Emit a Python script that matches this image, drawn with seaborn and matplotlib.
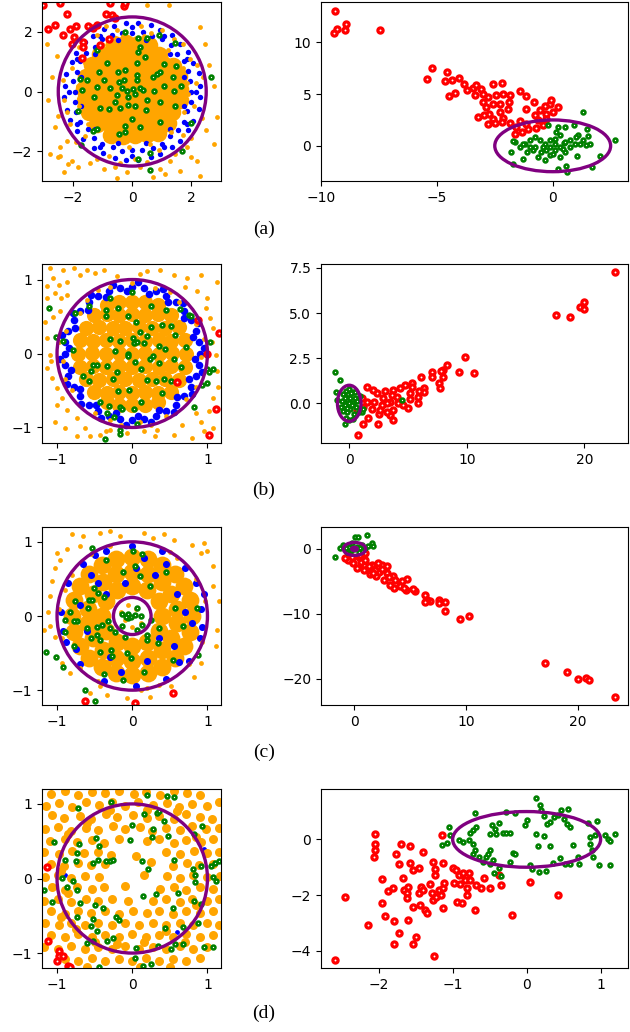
import numpy as np
import matplotlib
matplotlib.use("Agg")
import matplotlib.pyplot as plt
from matplotlib.patches import Circle
import seaborn as sns

# ---------------- row (a) ----------------
A_CORE = [(-0.6,1.6),(-0.22,1.63),(0.2,1.58),(0.58,1.55),
    (-1.1,1.25),(-0.72,1.28),(-0.3,1.24),(0.12,1.27),(0.5,1.23),(0.9,1.22),
    (-1.36,0.9),(-0.95,0.93),(-0.55,0.88),(-0.15,0.9),(0.27,0.92),(0.65,0.88),(1.05,0.91),(1.38,0.85),
    (-1.56,0.5),(-1.15,0.53),(-0.75,0.49),(-0.35,0.52),(0.05,0.48),(0.45,0.52),(0.86,0.5),(1.25,0.47),(1.58,0.52),
    (-1.62,0.1),(-1.2,0.12),(-0.8,0.08),(-0.4,0.11),(0.0,0.1),(0.41,0.12),(0.8,0.08),(1.2,0.11),(1.62,0.1),
    (-1.58,-0.3),(-1.16,-0.28),(-0.75,-0.32),(-0.35,-0.3),(0.05,-0.28),(0.45,-0.31),(0.85,-0.3),(1.25,-0.32),(1.6,-0.28),
    (-1.45,-0.7),(-1.05,-0.72),(-0.65,-0.68),(-0.25,-0.7),(0.15,-0.72),(0.55,-0.69),(0.95,-0.7),(1.35,-0.68),
    (-1.2,-1.1),(-0.8,-1.07),(-0.4,-1.12),(0.0,-1.1),(0.4,-1.08),(0.8,-1.1),(1.2,-1.05),
    (-0.72,-1.45),(-0.3,-1.48),(0.1,-1.46),(0.5,-1.42),(0.86,-1.38)]
A_BLUE = [(2.0,0.0),(1.95,0.35),(1.9,0.69),(1.75,1.01),(1.5,1.27),(1.3,1.55),(1.02,1.76),(0.66,1.86),(0.36,2.0),(0.0,1.95),
    (-0.34,1.95),(-0.69,1.9),(-1.01,1.75),(-1.27,1.5),(-1.55,1.3),(-1.76,1.02),(-1.86,0.66),(-2.0,0.36),(-1.95,0.0),
    (-1.95,-0.34),(-1.9,-0.69),(-1.75,-1.01),(-1.5,-1.27),(-1.3,-1.55),(-1.02,-1.76),(-0.66,-1.86),(-0.36,-2.0),(0.0,-1.95),
    (0.34,-1.95),(0.69,-1.9),(1.01,-1.75),(1.27,-1.5),(1.55,-1.3),(1.76,-1.02),(1.86,-0.66),(2.0,-0.36),
    (2.28,0.2),(2.24,0.62),(2.05,0.95),(1.9,1.34),(1.6,1.6),(1.34,1.9),(0.95,2.05),(0.62,2.24),(0.2,2.28),
    (-0.2,2.3),(-0.62,2.2),(-0.95,2.1),(-1.34,1.86),(-1.6,1.66),(-1.9,1.3),(-2.05,0.99),(-2.24,0.58),(-2.28,0.2),
    (-2.3,-0.2),(-2.2,-0.62),(-2.1,-0.95),(-1.86,-1.34),(-1.66,-1.6),(-1.3,-1.9),(-0.99,-2.05),(-0.58,-2.24),(-0.2,-2.28),
    (0.2,-2.3),(0.62,-2.2),(0.95,-2.1),(1.34,-1.86),(1.6,-1.66),(1.9,-1.3),(2.05,-0.99),(2.24,-0.58),(2.3,-0.2),
    (1.74,0.47),(1.27,1.27),(0.47,1.74),(-0.47,1.74),(-1.27,1.27),(-1.74,0.47),(-1.74,-0.47),(-1.27,-1.27),(-0.47,-1.74),
    (0.47,-1.74),(1.27,-1.27),(1.74,-0.47),
    (2.15,0.0),(1.86,1.08),(1.08,1.86),(0.0,2.15),(-1.08,1.86),(-1.86,1.08),(-2.15,0.0),(-1.86,-1.08),(-1.08,-1.86),
    (0.0,-2.15),(1.08,-1.86),(1.86,-1.08)]
A_ORANGE = [(2.15,0.3),(2.1,-0.5),(1.95,1.1),(1.4,1.75),(0.3,2.2),(-0.5,2.05),(-1.2,1.9),(-2.05,0.8),(-2.3,-0.3),(-2.1,-1.1),
    (-1.6,-1.5),(-0.8,-2.15),(0.1,-2.25),(0.9,-1.95),(1.7,-1.45),(2.35,-0.9),(2.2,0.9),(1.0,2.05),(-1.8,1.5),(-2.35,0.4),
    (-1.9,-1.7),(-0.4,-2.4),(0.5,-2.35),(1.45,-2.1),(2.0,-1.55),(2.4,0.5),(1.7,1.6),(-0.9,2.2),(-2.2,-0.7),(0.65,1.95),
    (-2.89,1.6),(-2.61,-1.2),(-2.44,-2.15),(-2.5,-2.21),(-2.16,-2.43),(-2.05,-2.32),(-1.82,-2.54),(-1.42,-2.38),(-1.18,-2.26),
    (-0.97,-2.6),(-0.58,-2.54),(-0.18,-2.71),(0.27,-2.54),(0.95,-2.6),(1.12,-2.77),(1.29,-2.32),(2.19,-2.32),(2.3,-2.82),
    (2.76,-1.76),(2.87,-0.86),(1.97,-2.21),(1.85,-1.87),(0.5,2.89),(1.23,2.89),(2.3,2.16),(-2.44,-1.87),(-2.21,-1.65),
    (-2.78,-2.1),(-2.5,-0.81),(2.6,0.9),(2.75,0.2),(-2.7,0.5),(-2.85,-0.3),(2.5,-1.3),(-2.3,-2.7),(1.6,-2.65),(0.7,-2.85),
    (-0.5,-2.9),(2.45,1.6),(-2.55,1.2),
    (1.85,0.3),(1.7,0.8),(1.2,1.4),(0.4,1.85),(-0.3,1.85),(-1.0,1.55),(-1.6,0.95),(-1.85,0.2),(-1.8,-0.5),(-1.5,-1.1),
    (-0.9,-1.6),(-0.1,-1.85),(0.6,-1.75),(1.3,-1.35),(1.75,-0.7),(1.9,-0.1)]
A_GREEN = [(-0.24,1.99),(0.21,1.79),(0.50,1.79),(0.89,1.90),(1.46,1.64),(-1.20,1.38),(0.19,1.32),(0.27,1.49),(0.42,1.15),
    (0.16,0.95),(-0.84,0.96),(-1.11,0.65),(-0.49,0.65),(-0.26,0.73),(-1.76,0.43),(-1.54,0.40),(-0.97,0.37),(-0.46,0.31),
    (-0.29,0.39),(0.16,0.54),(0.70,0.50),(0.84,0.57),(0.95,0.65),(1.06,0.91),(1.49,0.87),(1.38,0.50),(2.67,0.50),(-1.20,0.15),
    (-1.71,0.06),(-0.75,0.12),(-0.35,0.12),(-0.18,0.03),(0.04,0.09),(0.27,0.12),(0.38,0.06),(0.75,0.03),(1.06,0.17),(1.42,0.03),
    (1.65,0.17),(-1.29,-0.19),(-0.52,-0.13),(-0.13,-0.19),(0.10,-0.08),(0.50,-0.30),(0.95,-0.36),(-1.85,-0.64),(-1.09,-0.55),
    (-0.80,-0.58),(-0.58,-0.36),(-0.41,-0.55),(-0.13,-0.44),(0.10,-0.50),(0.46,-0.62),(1.46,-0.47),(-0.01,-0.93),(-0.24,-1.14),
    (0.27,-1.18),(0.95,-1.03),(1.99,-1.06),(-1.20,-1.25),(-1.31,-1.34),(-0.46,-1.42),(-1.74,-1.78),(0.59,-2.07),(0.21,-2.26),
    (0.61,-2.62),(1.68,-1.98),(-0.24,-1.37),(0.16,0.37)]
A_RED = [(-3.0,2.89),(-2.44,2.95),(-2.21,2.61),(-2.84,2.08),(-2.61,2.22),(-2.35,1.88),(-2.10,2.08),(-1.90,2.18),(-1.97,1.83),
    (-2.05,1.60),(-1.65,1.66),(-1.67,1.49),(-1.71,1.13),(-1.48,2.20),(-1.20,2.22),(-1.08,1.57),(-0.80,1.75),(-0.88,2.61),
    (-0.70,2.55),(-0.59,2.47),(-0.76,2.95),(-0.27,2.86),(-0.24,2.95),(-1.33,2.13)]
RA_RED = [(-9.39,13.04),(-9.43,10.91),(-9.33,11.33),(-8.97,11.23),(-8.90,11.81),(-7.46,11.17),(-5.44,6.42),(-5.22,7.52),
    (-4.57,7.13),(-4.63,6.26),(-4.34,6.39),(-4.05,6.59),(-4.49,4.78),(-4.23,5.10),(-3.81,5.94),(-3.71,5.42),(-3.45,5.62),
    (-3.33,5.84),(-3.09,5.52),(-3.37,4.88),(-3.01,5.04),(-2.58,6.01),(-2.18,6.10),(-2.80,4.71),(-2.44,4.88),(-2.15,5.04),
    (-1.86,4.88),(-1.43,5.30),(-1.17,4.78),(-3.01,4.23),(-2.87,3.75),(-2.58,4.01),(-2.29,4.07),(-1.93,3.59),(-1.89,4.23),
    (-2.26,3.26),(-2.73,3.10),(-3.23,2.78),(-2.98,2.94),(-2.58,2.62),(-2.15,2.71),(-2.80,2.07),(-2.51,2.20),(-2.18,2.30),
    (-1.83,2.20),(-1.57,1.81),(-1.64,1.17),(-1.43,2.39),(-1.14,2.13),(-1.07,1.59),(-0.78,2.94),(-0.82,4.23),(-1.14,3.59),
    (-0.56,3.43),(-0.34,3.81),(-0.13,4.01),(0.02,3.26),(0.23,3.75),(-0.30,3.10),(-0.63,2.46),(-0.42,1.97),(-0.73,1.75),
    (-0.27,2.62),(-0.06,4.39),(-1.31,1.33)]
RA_GREEN = [(1.29,3.26),(-0.20,1.97),(0.23,1.81),(0.52,1.81),(0.93,1.97),(1.49,1.65),(1.53,0.91),(2.69,0.52),(1.10,1.01),
    (1.32,0.52),(1.60,0.13),(1.43,0.04),(1.00,0.84),(0.74,0.52),(0.48,0.26),(0.31,1.01),(0.09,0.68),(-0.13,0.52),(-0.34,0.20),
    (-0.56,0.52),(-0.78,0.84),(-0.99,0.59),(-1.21,0.13),(-1.43,-0.12),(-1.64,0.36),(-1.71,0.46),(-1.79,-0.61),(-1.71,-1.74),
    (-1.28,-1.25),(-1.11,-0.61),(-0.85,-0.45),(-0.63,-1.09),(-0.34,-1.41),(-0.13,-0.93),(0.09,-0.45),(0.31,-1.09),(0.52,-0.61),
    (0.74,-0.12),(0.96,0.13),(1.03,-1.03),(0.23,-2.22),(0.59,-1.96),(0.62,-2.54),(1.68,-2.00),(2.04,-1.03),(-0.42,-0.12),
    (-0.13,-0.12),(0.09,0.20),(0.31,-0.12),(0.52,0.36),(-0.49,-0.61),(-0.27,-0.45),(-0.78,-0.12),(-0.99,-0.12),(-1.28,0.20),
    (1.17,0.20),(0.16,1.33),(0.02,-0.77),(0.45,-0.28)]

# ---------------- row (b) ----------------
B_CORE = [(-0.34,0.66),(-0.17,0.7),(0.0,0.7),(0.17,0.7),(0.34,0.66),
    (-0.51,0.52),(-0.34,0.53),(-0.17,0.52),(0.0,0.53),(0.17,0.52),(0.34,0.53),(0.51,0.52),
    (-0.62,0.35),(-0.44,0.36),(-0.26,0.35),(-0.09,0.35),(0.09,0.36),(0.26,0.35),(0.44,0.35),(0.62,0.36),
    (-0.7,0.18),(-0.52,0.17),(-0.35,0.18),(-0.17,0.17),(0.0,0.18),(0.17,0.17),(0.35,0.18),(0.52,0.17),(0.7,0.18),
    (-0.72,0.0),(-0.53,0.01),(-0.35,0.0),(-0.17,0.01),(0.0,0.0),(0.17,0.01),(0.35,0.0),(0.53,0.01),(0.72,0.0),
    (-0.7,-0.18),(-0.52,-0.17),(-0.35,-0.18),(-0.17,-0.17),(0.0,-0.18),(0.17,-0.17),(0.35,-0.18),(0.52,-0.17),(0.7,-0.18),
    (-0.62,-0.35),(-0.44,-0.36),(-0.26,-0.35),(-0.09,-0.35),(0.09,-0.36),(0.26,-0.35),(0.44,-0.35),(0.62,-0.36),
    (-0.51,-0.52),(-0.34,-0.53),(-0.17,-0.52),(0.0,-0.53),(0.17,-0.52),(0.34,-0.53),(0.51,-0.52),
    (-0.34,-0.66),(-0.17,-0.7),(0.0,-0.7),(0.17,-0.7),(0.34,-0.66)]
B_BLUE = [(0.9,0.0),(0.89,0.16),(0.85,0.31),(0.78,0.45),(0.69,0.58),(0.58,0.69),(0.45,0.78),(0.31,0.85),(0.16,0.89),(0.0,0.9),
    (-0.16,0.89),(-0.31,0.85),(-0.45,0.78),(-0.58,0.69),(-0.69,0.58),(-0.78,0.45),(-0.85,0.31),(-0.89,0.16),(-0.9,0.0),
    (-0.89,-0.16),(-0.85,-0.31),(-0.78,-0.45),(-0.69,-0.58),(-0.58,-0.69),(-0.45,-0.78),(-0.31,-0.85),(-0.16,-0.89),(0.0,-0.9),
    (0.16,-0.89),(0.31,-0.85),(0.45,-0.78),(0.58,-0.69),(0.69,-0.58),(0.78,-0.45),(0.85,-0.31),(0.89,-0.16),
    (0.96,0.08),(0.81,0.22),(0.87,0.41),(0.69,0.48),(0.68,0.68),(0.48,0.69),(0.41,0.87),(0.22,0.81),(0.08,0.96),
    (-0.07,0.84),(-0.25,0.93),(-0.35,0.76),(-0.55,0.79),(-0.59,0.59),(-0.79,0.55),(-0.76,0.35),(-0.93,0.25),(-0.84,0.07),
    (-0.96,-0.08),(-0.81,-0.22),(-0.87,-0.41),(-0.69,-0.48),(-0.68,-0.68),(-0.48,-0.69),(-0.41,-0.87),(-0.22,-0.81),(-0.08,-0.96),
    (0.07,-0.84),(0.25,-0.93),(0.35,-0.76),(0.55,-0.79),(0.59,-0.59),(0.79,-0.55),(0.76,-0.35),(0.93,-0.25),(0.84,-0.07)]
B_ORANGE = [(-1.09,1.15),(-0.92,1.13),(-0.78,1.15),(-1.05,1.02),(-1.14,0.91),(-0.98,0.93),(-0.87,0.97),(-0.69,1.06),
    (-0.60,1.13),(-0.49,1.09),(-0.38,1.13),(-1.14,0.75),(-1.03,0.82),(-0.87,0.79),(-1.16,0.43),(-1.14,0.21),(-1.09,-0.02),
    (-1.14,-0.20),(-1.07,-0.33),(-1.00,-0.47),(-0.94,-0.60),(-0.87,-0.76),(-0.74,-0.87),(-0.63,-1.01),(-0.56,-1.12),
    (-0.43,-1.10),(-0.29,-1.03),(-0.07,-1.08),(0.15,-1.05),(0.33,-1.03),(0.55,-1.10),(0.66,-0.96),(0.80,-1.14),(0.91,-0.92),
    (1.02,-0.78),(1.08,-0.60),(1.14,-0.45),(1.13,-0.24),(1.11,-0.02),(1.08,0.34),(1.04,0.48),(1.0,0.75),(0.86,0.84),
    (0.73,1.02),(0.55,1.06),(0.37,1.13),(0.20,1.11),(0.91,1.06),(1.13,0.97),(-0.96,0.57),(-0.89,-1.01),(-1.03,-0.92),
    (-0.74,-1.12),(1.08,-1.01),(0.95,-1.05),
    (0.0,0.95),(0.3,0.88),(-0.3,0.9),(-0.6,0.72),(0.62,0.7),(0.85,0.4),(-0.88,0.3),(-0.92,-0.1),(0.92,-0.05),(0.85,-0.45),
    (-0.8,-0.5),(-0.5,-0.8),(0.45,-0.85),(0.1,-0.93),(-0.15,-0.97),(0.72,-0.62),(-0.7,0.55),(0.5,0.83),(-0.45,0.86),
    (0.96,0.2),(-0.97,0.15),(-0.9,-0.35),(0.25,-0.96),(-0.3,-0.9),
    (-1.05,0.5),(-1.08,-0.1),(1.06,0.15),(0.98,0.62),(-0.95,0.75),(0.7,0.9),(-0.2,1.05),(0.1,1.08),(-1.0,-0.7),
    (0.85,-0.8),(0.3,-1.12),(-0.35,-1.05)]
B_GREEN = [(-1.11,0.61),(-1.01,0.22),(-0.92,0.17),(-0.79,0.05),(-0.76,0.55),(-0.58,0.64),(-0.29,0.75),(-0.35,0.59),
    (-0.35,0.51),(-0.19,0.62),(-0.05,0.51),(0.0,0.83),(0.05,0.43),(0.10,0.29),(0.01,0.21),(0.02,0.14),(0.06,0.15),
    (0.16,0.14),(-0.30,0.20),(-0.16,0.17),(-0.23,0.03),(-0.06,0.0),(-0.06,-0.03),(0.20,0.24),(0.25,0.36),(0.25,0.64),
    (0.40,0.38),(0.45,0.59),(0.52,0.37),(0.63,0.60),(0.57,0.25),(0.72,0.09),(0.36,0.10),(0.44,0.06),(0.24,-0.08),
    (0.28,-0.04),(0.03,-0.11),(0.12,-0.21),(0.36,-0.13),(0.56,-0.08),(0.65,-0.18),(0.75,0.52),(-0.33,-0.17),(-0.20,-0.25),
    (-0.47,-0.15),(-0.52,-0.15),(-0.55,-0.24),(-0.65,-0.30),(-0.58,-0.37),(-0.26,-0.35),(0.20,-0.36),(0.31,-0.37),
    (0.42,-0.35),(0.51,-0.37),(-0.04,-0.49),(-0.19,-0.51),(0.40,-0.54),(-0.43,-0.66),(-0.31,-0.71),(-0.16,-0.72),
    (-0.13,-0.75),(0.12,-0.66),(0.02,-0.75),(-0.24,-0.86),(-0.34,-0.80),(0.82,-0.72),(0.06,-0.95),(-0.16,-1.04),
    (-0.16,-1.09),(-0.36,-1.15),(0.99,-0.21),(1.02,-0.25),(1.08,-0.21),(1.03,0.16),(1.0,-0.40),(0.93,-0.42),(0.78,0.51)]
B_RED = [(0.87,0.45),(1.0,0.0),(1.15,0.28),(0.60,-0.38),(1.11,-0.75),(1.02,-1.10)]
RB_RED = [(22.62,7.26),(17.59,4.88),(18.73,4.78),(19.58,5.36),(19.98,5.64),(19.98,5.21),(9.88,2.57),(10.64,1.67),(9.31,1.71),
    (8.35,2.14),(8.01,1.86),(7.78,1.80),(7.95,1.43),(7.67,1.15),(7.72,0.84),(7.01,1.73),(7.01,1.45),(6.08,1.43),(6.36,0.87),
    (6.36,0.65),(5.96,0.69),(5.88,0.37),(5.88,0.04),(5.31,1.15),(5.31,0.93),(5.17,0.56),(5.17,0.22),(4.97,-0.28),(4.74,1.02),
    (4.32,0.84),(3.75,0.74),(3.61,0.46),(3.47,0.09),(3.75,-0.37),(3.69,-0.93),(3.47,-0.65),(3.04,0.69),(2.90,0.28),(2.76,-0.10),
    (2.56,-0.62),(2.47,-1.12),(2.33,0.56),(2.11,0.09),(1.91,-0.32),(1.62,-0.80),(1.20,-1.12),(0.77,-1.77),(1.48,0.93),(1.99,0.74),
    (1.54,0.09),(1.14,-0.19),(0.63,-0.37),(3.18,0.0),(4.18,0.0),(4.60,-0.10),(4.03,0.37),(1.06,0.32),(2.62,-0.37),(3.18,-0.47)]
RB_GREEN = [(-1.21,1.73),(-0.79,1.3),(-1.13,0.61),(-1.07,0.19),(-0.36,-1.12),(4.46,0.19),(1.06,-0.47),
    (-0.5,0.5),(-0.3,0.7),(0.0,0.8),(0.3,0.6),(0.5,0.3),(-0.6,0.1),(-0.4,-0.1),(-0.2,0.2),(0.1,0.3),(0.3,0.0),(0.6,-0.2),
    (-0.5,-0.4),(-0.2,-0.5),(0.1,-0.3),(0.4,-0.6),(-0.3,-0.8),(0.0,-0.9),(0.3,-0.85),(0.0,0.0),(-0.1,0.5),(0.2,-0.1),
    (-0.4,0.3),(0.5,0.6),(-0.7,-0.2),(0.7,0.1),(-0.15,-0.25),(0.15,0.55),(0.8,-0.5),(1.2,-0.3),(0.9,0.4)]

# ---------------- row (c) ----------------
C_CORE = [(0.4,0.0),(0.35,0.2),(0.2,0.35),(0.0,0.4),(-0.2,0.35),(-0.35,0.2),(-0.4,0.0),(-0.35,-0.2),(-0.2,-0.35),(0.0,-0.4),
    (0.2,-0.35),(0.35,-0.2),
    (0.59,0.1),(0.52,0.3),(0.39,0.46),(0.21,0.56),(0.0,0.6),(-0.21,0.56),(-0.39,0.46),(-0.52,0.3),(-0.59,0.1),(-0.59,-0.1),
    (-0.52,-0.3),(-0.39,-0.46),(-0.21,-0.56),(0.0,-0.6),(0.21,-0.56),(0.39,-0.46),(0.52,-0.3),(0.59,-0.1),
    (0.8,0.0),(0.77,0.21),(0.69,0.4),(0.57,0.57),(0.4,0.69),(0.21,0.77),(0.0,0.8),(-0.21,0.77),(-0.4,0.69),(-0.57,0.57),
    (-0.69,0.4),(-0.77,0.21),(-0.8,0.0),(-0.77,-0.21),(-0.69,-0.4),(-0.57,-0.57),(-0.4,-0.69),(-0.21,-0.77),(0.0,-0.8),
    (0.21,-0.77),(0.4,-0.69),(0.57,-0.57),(0.69,-0.4),(0.77,-0.21)]
C_BLUE = [(0.92,0.1),(0.9,-0.3),(0.85,0.45),(0.7,0.65),(0.4,0.88),(0.0,0.95),(-0.35,0.88),(-0.65,0.7),(-0.85,0.45),
    (-0.95,0.05),(-0.88,-0.35),(-0.7,-0.65),(-0.38,-0.88),(0.05,-0.95),(0.45,-0.85),(0.75,-0.6),(0.93,-0.15),(0.95,0.3),
    (-0.92,-0.2),(-0.5,0.82),(0.6,0.3),(0.3,0.55),(-0.45,0.45),(-0.6,-0.2),(0.2,-0.6),(0.55,-0.4),(-0.3,-0.55),(0.7,0.05),
    (-0.7,0.15),(0.05,0.65),(-0.15,-0.75),(0.45,0.7),(-0.75,-0.45),(0.8,-0.1),(0.35,-0.3),(-0.35,0.3),(0.15,0.78),
    (-0.55,0.55),(0.62,-0.62),(-0.1,0.45)]
C_ORANGE = [(-0.80,1.10),(-0.65,1.08),(-0.43,1.12),(-0.29,1.14),(-0.16,1.08),(0.15,1.12),(0.28,1.05),(0.42,1.10),(0.55,1.03),
    (0.80,0.96),(0.95,0.99),(-0.96,0.76),(-1.03,0.65),(-1.07,0.47),(-1.09,0.27),(-1.12,0.06),(-1.09,-0.14),(-1.03,-0.28),
    (-0.94,-0.64),(-0.83,-0.77),(-0.56,-1.04),(-0.34,-1.06),(-0.07,-1.11),(0.24,-1.09),(0.51,-0.95),(0.82,-0.82),
    (0.92,-0.64),(1.11,-0.41),(1.13,-0.19),(1.15,0.20),(1.08,0.40),(1.08,0.67),(0.91,0.85),(-0.87,0.90),(-0.69,0.94),
    (-1.00,0.85),(-1.18,-0.19),(1.0,0.87),(-0.43,-0.95),(0.11,-1.0),
    (0.05,0.1),(-0.1,-0.05),(0.12,-0.1),(-0.05,0.15),(0.0,-0.15),(-0.15,0.05),
    (0.97,0.2),(-0.97,0.1),(0.2,-0.97),(-0.3,0.95),(0.6,0.78),(-0.7,-0.7),(0.75,-0.65),(-0.8,0.55),
    (0.93,-0.35),(0.5,0.86),(-0.55,0.83),(-0.93,-0.3),(-0.45,-0.88),(0.35,-0.93),(0.85,0.5),(-0.9,0.35)]
C_GREEN = [(-0.53,0.92),(-0.35,0.76),(0.01,0.87),(0.13,0.83),(0.04,0.67),(-0.12,0.59),(0.10,0.54),(0.45,0.59),(0.24,0.40),
    (-0.51,0.38),(-0.45,0.31),(-0.38,0.26),(-0.58,0.22),(-0.54,0.22),(-0.76,0.20),(-0.59,0.11),(-0.83,0.05),(-0.89,-0.06),
    (-0.74,-0.07),(-0.77,-0.07),(-0.90,-0.22),(-0.60,-0.16),(-0.47,-0.15),(-0.40,-0.12),(-0.32,-0.07),(-0.29,-0.16),
    (-0.23,-0.21),(-0.47,-0.25),(-0.55,-0.30),(-0.43,-0.32),(-0.77,-0.41),(-0.43,-0.48),(-0.27,-0.54),(-0.28,-0.46),
    (-0.09,-0.28),(-0.07,-0.50),(-0.01,-0.57),(-0.13,0.03),(-0.05,0.03),(-0.02,-0.01),(0.03,0.01),(-0.06,-0.03),(0.06,0.11),
    (0.11,0.0),(-0.14,-0.14),(-0.08,-0.01),(0.13,-0.12),(0.20,-0.25),(0.20,-0.33),(0.35,-0.16),(0.34,-0.36),(0.25,-0.05),
    (0.54,-0.59),(0.68,-0.14),(0.57,0.11),(0.86,0.11),(0.88,-0.52),(0.16,-0.75),(-0.12,-0.86),(-0.37,-0.78),(-0.63,-1.0),
    (-0.49,-1.15),(-1.15,-0.49),(-1.02,-0.55),(-0.92,-0.69),(0.06,-0.19)]
C_RED = [(-0.63,-1.15),(0.04,-1.17),(0.54,-1.04)]
RC_RED = [(23.38,-22.70),(17.10,-17.60),(19.0,-18.88),(20.03,-20.05),(20.78,-19.80),(20.99,-20.2),(9.48,-10.76),
    (10.23,-10.25),(8.13,-9.59),(8.13,-8.21),(7.53,-7.80),(7.53,-8.31),(6.79,-8.06),(6.49,-7.80),(6.34,-7.04),(6.34,-8.21),
    (5.44,-6.53),(5.23,-6.17),(4.63,-6.27),(4.69,-4.64),(4.25,-4.99),(4.04,-5.76),(3.50,-6.02),(3.44,-4.23),(3.14,-5.51),
    (2.90,-3.72),(2.60,-4.74),(2.45,-2.45),(2.24,-3.62),(1.94,-4.23),(1.85,-3.21),(1.41,-3.83),(1.11,-3.11),(0.81,-2.45),
    (0.57,-1.94),(0.21,-2.96),(-0.09,-2.19),(-0.54,-1.68),(-0.84,-1.43),(-0.24,-1.17),(0.36,-1.17),(0.96,-1.68),(1.56,-2.45),
    (2.45,-3.11),(3.05,-4.34),(3.65,-4.74),(4.40,-6.02),(2.90,-2.70),(2.15,-2.09),(0.81,-3.21),(1.26,-2.70),(1.70,-3.72),
    (0.96,-0.66),(0.51,-0.92)]
RC_GREEN = [(-1.73,-1.17),(-1.34,0.10),(-0.99,0.61),(0.06,1.79),(0.27,1.89),(1.11,2.14),(1.56,0.87),(1.64,0.46),(0.66,0.61),
    (-0.24,0.87),(-0.69,-0.41),(-0.39,-0.41),(0.2,0.3),(-0.3,-0.2),(0.5,0.1),(-0.5,0.3),(0.7,-0.3),(0.9,0.2),(0.0,0.0),
    (-0.8,0.1),(1.2,0.5),(0.4,-0.5)]

# ---------------- row (d) ----------------
D_ORANGE = [(-1.08,1.13),(-0.9,1.17),(-0.72,1.12),(-0.54,1.16),(-0.36,1.14),(-0.18,1.17),(0.02,1.13),(0.18,1.16),(0.37,1.12),
    (0.55,1.17),(0.73,1.14),(0.9,1.12),
    (-1.15,0.97),(-0.98,1.01),(-0.8,0.96),(-0.62,1.02),(-0.44,0.98),(-0.27,1.03),(-0.1,0.97),(0.08,1.02),(0.28,0.98),
    (0.46,1.01),(0.62,0.96),(0.8,1.0),(1.0,0.97),(1.15,1.02),
    (-1.07,0.85),(-0.91,0.81),(-0.7,0.84),(-0.55,0.8),(-0.35,0.86),(-0.2,0.82),(0.01,0.85),(0.2,0.81),(0.35,0.84),(0.55,0.8),
    (0.71,0.86),(0.9,0.83),(1.06,0.8),
    (-1.16,0.66),(-0.99,0.69),(-0.82,0.64),(-0.62,0.68),(-0.46,0.65),(-0.26,0.7),(-0.1,0.66),(0.1,0.69),(0.26,0.64),(0.45,0.68),
    (0.64,0.65),(0.8,0.7),(0.98,0.66),(1.16,0.68),
    (-1.09,0.5),(-0.9,0.53),(-0.73,0.49),(-0.53,0.52),(-0.37,0.48),(-0.17,0.53),(0.19,0.5),(0.36,0.53),(0.55,0.48),(0.72,0.52),
    (0.91,0.49),(1.07,0.53),
    (-1.17,0.36),(-0.98,0.33),(-0.8,0.37),(-0.64,0.34),(-0.45,0.36),(-0.28,0.32),(0.45,0.35),(0.63,0.33),(0.82,0.37),(0.99,0.34),
    (1.16,0.36),
    (-1.08,0.2),(-0.91,0.17),(-0.72,0.21),(-0.55,0.18),(-0.36,0.2),(0.54,0.17),(0.73,0.21),(0.89,0.18),(1.07,0.2),
    (-1.16,0.02),(-0.99,0.05),(-0.81,0.01),(-0.63,0.04),(-0.44,0.02),(0.46,0.03),(0.64,0.01),(0.81,0.05),(0.99,0.02),(1.17,0.04),
    (-1.07,-0.12),(-0.9,-0.15),(-0.73,-0.11),(-0.54,-0.14),(-0.37,-0.12),(0.37,-0.14),(0.55,-0.11),(0.72,-0.15),(0.9,-0.12),
    (1.08,-0.14),
    (-1.17,-0.3),(-0.99,-0.27),(-0.81,-0.31),(-0.62,-0.28),(-0.45,-0.3),(-0.27,-0.27),(0.27,-0.3),(0.45,-0.28),(0.63,-0.31),
    (0.8,-0.27),(0.99,-0.3),(1.16,-0.28),
    (-1.08,-0.44),(-0.9,-0.47),(-0.72,-0.43),(-0.55,-0.46),(-0.36,-0.44),(-0.18,-0.47),(0.01,-0.43),(0.19,-0.46),(0.36,-0.44),
    (0.54,-0.47),(0.72,-0.43),(0.9,-0.46),(1.08,-0.44),
    (-1.16,-0.6),(-0.98,-0.63),(-0.81,-0.59),(-0.63,-0.62),(-0.45,-0.6),(-0.27,-0.63),(-0.09,-0.59),(0.09,-0.62),(0.27,-0.6),
    (0.45,-0.63),(0.63,-0.59),(0.81,-0.62),(0.99,-0.6),(1.15,-0.63),
    (-1.08,-0.76),(-0.9,-0.79),(-0.72,-0.75),(-0.54,-0.78),(-0.36,-0.76),(-0.18,-0.79),(0.0,-0.75),(0.18,-0.78),(0.36,-0.76),
    (0.54,-0.79),(0.72,-0.75),(0.9,-0.78),(1.08,-0.76),
    (-1.17,-0.92),(-0.99,-0.95),(-0.81,-0.91),(-0.63,-0.94),(-0.45,-0.92),(-0.27,-0.95),(-0.09,-0.91),(0.09,-0.94),(0.27,-0.92),
    (0.45,-0.95),(0.63,-0.91),(0.81,-0.94),(0.99,-0.92),
    (-0.9,-1.08),(-0.72,-1.11),(-0.54,-1.07),(-0.36,-1.1),(-0.18,-1.08),(0.0,-1.11),(0.18,-1.07),(0.36,-1.1),(0.54,-1.08),
    (0.72,-1.11),(0.9,-1.07),
    (0.05,0.3),(0.15,0.05),(-0.1,-0.1),(0.25,0.22),(-0.05,-0.3),(-0.6,-1.18),(0.1,-1.18),(0.5,-1.18),
    (-0.95,-0.52),(-0.75,-0.68),(-0.5,-0.85),(-0.2,-0.88),(0.15,-0.85),(0.45,-0.7),(0.7,-0.85),(-0.95,0.1),(-0.85,0.6),
    (-0.6,0.75),(-0.3,0.92),(0.2,0.92),(0.6,0.9),(0.85,0.55),(0.85,-0.35),(-0.85,-0.2)]
D_BLUE = [(0.95,0.4),(0.6,-0.72),(-0.9,0.05)]
D_GREEN = [(-0.28,1.03),(0.19,1.12),(0.46,1.10),(0.55,1.09),(-0.72,0.95),(0.16,0.86),(0.33,0.88),(0.35,0.90),(0.42,0.77),
    (0.0,0.72),(0.28,0.66),(0.93,0.71),(0.82,0.59),(0.48,0.57),(0.26,0.55),(-0.03,0.51),(-0.48,0.54),(-0.44,0.44),(-0.71,0.46),
    (-1.04,0.49),(-0.74,0.34),(-0.89,0.25),(-0.75,0.23),(-0.52,0.21),(-0.46,0.25),(-0.35,0.24),(-0.30,0.24),(-0.25,0.25),
    (0.13,0.23),(0.21,0.13),(0.56,0.25),(0.81,0.13),(0.83,0.05),(0.91,0.17),(1.05,0.17),(1.10,0.21),(1.15,0.23),(-0.93,0.01),
    (-0.79,-0.03),(-0.87,-0.12),(-0.73,-0.16),(0.84,-0.05),(1.08,0.02),(1.11,-0.04),(0.14,-0.23),(0.31,-0.21),(0.61,-0.20),
    (-1.07,-0.32),(-0.70,-0.33),(-0.50,-0.36),(-0.39,-0.40),(0.54,-0.39),(0.82,-0.30),(0.91,-0.34),(-0.74,-0.51),(-0.52,-0.54),
    (-0.21,-0.52),(-0.18,-0.56),(-0.55,-0.64),(-0.47,-0.71),(0.43,-0.66),(0.68,-0.65),(0.88,-0.60),(-0.25,-0.80),(-0.33,-0.84),
    (-0.60,-0.86),(-0.52,-0.84),(0.34,-0.90),(0.05,-0.93),(0.52,-0.95),(0.57,-0.88),(0.68,-0.88),(0.96,-0.92),(1.08,-0.92),
    (0.03,-1.07),(0.14,-1.17),(0.25,-1.14),(-0.44,-1.19),(-1.18,-0.15)]
D_RED = [(-1.14,0.15),(-1.12,-0.84),(-0.98,-0.97),(-0.97,-1.04),(-1.00,-1.10),(-0.92,-1.04),(-0.86,-1.17),(-0.83,-1.19)]
RD_RED = [(-2.59,-4.32),(-2.45,-2.06),(-2.15,-3.08),(-2.05,0.18),(-2.05,-0.15),(-2.05,-0.39),(-2.06,-0.65),(-1.95,-1.44),
    (-1.96,-2.28),(-1.91,-2.76),(-1.87,-1.85),(-1.81,-1.76),(-1.79,-2.93),(-1.79,-3.77),(-1.77,-0.53),(-1.73,-0.89),
    (-1.72,-3.36),(-1.70,-0.15),(-1.67,-1.38),(-1.66,-1.82),(-1.62,-1.92),(-1.60,-1.70),(-1.62,-2.12),(-1.60,-2.90),
    (-1.58,-0.24),(-1.58,-0.86),(-1.54,-1.10),(-1.53,-2.42),(-1.54,-3.74),(-1.49,-3.50),(-1.46,-1.01),(-1.43,-1.70),
    (-1.46,-1.94),(-1.44,-2.36),(-1.40,-0.45),(-1.40,-1.82),(-1.37,-2.54),(-1.35,-2.66),(-1.31,-1.61),(-1.28,-1.94),
    (-1.26,-2.18),(-1.26,-0.80),(-1.24,-1.08),(-1.25,-4.20),(-1.24,-1.28),(-1.22,-2.06),(-1.19,-1.82),(-1.16,-2.00),
    (-1.13,-2.46),(-1.13,-1.76),(-1.13,-0.84),(-1.15,0.15),(-1.12,-1.58),(-1.00,-1.01),(-0.98,-1.58),(-0.96,-1.10),
    (-0.94,-2.24),(-0.91,-1.28),(-0.90,-1.61),(-0.87,-2.30),(-0.86,-1.22),(-0.83,-1.46),(-0.81,-1.73),(-0.80,-2.00),
    (-0.78,-1.22),(-0.76,-1.46),(-0.70,-2.54),(-0.68,-1.64),(-0.62,-1.73),(-0.58,-1.40),(-0.50,-1.73),(-0.38,-1.28),
    (-0.35,-1.64),(-0.20,-2.72),(0.05,-1.52),(0.43,-2.00)]
RD_GREEN = [(-1.15,-0.21),(-1.08,-0.12),(-1.05,0.45),(-1.03,0.15),(-0.92,-0.03),(-0.86,-0.09),(-0.78,-0.03),(-0.76,0.24),
    (-0.73,0.33),(-0.70,0.93),(-0.68,0.45),(-0.72,-0.17),(-0.70,-0.39),(-0.73,-0.53),(-0.65,-0.63),(-0.59,-0.80),(-0.55,-0.65),
    (-0.52,-0.51),(-0.50,-0.39),(-0.49,-0.87),(-0.45,-0.74),(-0.44,-1.22),(-0.47,0.51),(-0.50,0.21),(-0.43,0.39),(-0.41,0.18),
    (-0.38,0.60),(-0.37,-1.01),(-0.35,-1.32),(-0.32,0.24),(-0.28,0.24),(-0.23,0.24),(-0.28,0.99),(-0.23,-0.80),(-0.19,-0.48),
    (-0.16,-0.53),(-0.16,0.93),(-0.02,0.51),(0.01,0.69),(0.05,-0.92),(0.07,-1.08),(0.13,1.47),(0.13,0.21),(0.16,-0.24),
    (0.17,-1.16),(0.18,1.23),(0.20,1.05),(0.23,0.84),(0.23,0.12),(0.26,-1.13),(0.27,0.57),(0.32,0.63),(0.32,-0.24),(0.35,-0.86),
    (0.37,0.81),(0.43,0.87),(0.45,-0.68),(0.47,1.05),(0.50,0.72),(0.52,-0.87),(0.54,0.57),(0.56,1.08),(0.58,0.45),(0.59,-0.87),
    (0.63,-0.21),(0.70,-0.63),(0.71,-0.89),(0.83,0.60),(0.85,0.09),(0.86,-0.15),(0.88,-0.39),(0.90,-0.63),(0.92,0.15),
    (0.95,0.67),(0.98,-0.92),(1.06,0.15),(1.10,0.03),(1.13,-0.05),(1.12,-0.92),(1.19,0.21)]

LEFT_LIMS = [((-3.05, 3.0), (-3.0, 3.0)), ((-1.2, 1.18), (-1.21, 1.21)),
             ((-1.2, 1.18), (-1.2, 1.2)), ((-1.2, 1.18), (-1.2, 1.2))]
RIGHT_LIMS = [((-10.0, 3.25), (-3.4, 13.9)), ((-2.4, 23.7), (-2.2, 7.72)),
              ((-3.0, 24.5), (-24.0, 3.37)), ((-2.78, 1.37), (-4.62, 1.81))]
LEFT_TICKS = [[-2, 0, 2], [-1, 0, 1], [-1, 0, 1], [-1, 0, 1]]
RIGHT_XTICKS = [[-10, -5, 0], [0, 10, 20], [0, 10, 20], [-2, -1, 0, 1]]
RIGHT_YTICKS = [[0, 5, 10], [0.0, 2.5, 5.0, 7.5], [-20, -10, 0], [-4, -2, 0]]
RADII = [[2.5], [1.0], [1.0, 0.25], [1.0]]
LABELS = ["(a)", "(b)", "(c)", "(d)"]

ORANGE, BLUE, GREEN, RED, PURPLE = "#ffa500", "#0000ff", "#008000", "#ff0000", "#800080"


def dots(ax, pts, color, s):
    arr = np.asarray(pts, dtype=float)
    sns.scatterplot(x=arr[:, 0], y=arr[:, 1], ax=ax, s=s, color=color, linewidth=0, legend=False)


def rings(ax, pts, color, s, lw):
    arr = np.asarray(pts, dtype=float)
    sns.scatterplot(x=arr[:, 0], y=arr[:, 1], ax=ax, s=s, color="white", edgecolor=color,
                    linewidth=lw, legend=False)


W, H = 630, 1032
fig = plt.figure(figsize=(W / 100, H / 100), dpi=100)
rows = [(2, 181), (264, 443), (527, 705), (789, 968)]
label_y = [229, 490, 752, 1013]

left_sets = [
    (A_CORE, 160, A_BLUE, 15, A_ORANGE, 12, A_GREEN, A_RED),
    (B_CORE, 120, B_BLUE, 30, B_ORANGE, 12, B_GREEN, B_RED),
    (C_CORE, 165, C_BLUE, 26, C_ORANGE, 12, C_GREEN, C_RED),
    (None, 0, D_BLUE, 12, D_ORANGE, 42, D_GREEN, D_RED),
]
right_sets = [(RA_RED, RA_GREEN), (RB_RED, RB_GREEN), (RC_RED, RC_GREEN), (RD_RED, RD_GREEN)]

for i in range(4):
    top, bot = rows[i]
    y0, h = 1 - bot / H, (bot - top) / H
    axl = fig.add_axes([42 / W, y0, 179 / W, h])
    axr = fig.add_axes([321 / W, y0, 307 / W, h])

    core, core_s, blue, blue_s, orange, orange_s, green, red = left_sets[i]
    if core is not None:
        dots(axl, core, ORANGE, core_s)
    dots(axl, blue, BLUE, blue_s)
    dots(axl, orange, ORANGE, orange_s)
    rings(axl, green, GREEN, 8, 1.8)
    rings(axl, red, RED, 14, 2.3)

    rred, rgreen = right_sets[i]
    rings(axr, rred, RED, 14, 2.3)
    rings(axr, rgreen, GREEN, 8, 1.8)

    for ax in (axl, axr):
        for r in RADII[i]:
            ax.add_patch(Circle((0, 0), r, fill=False, edgecolor=PURPLE, linewidth=2.4, zorder=5))
        ax.set_xlabel("")
        ax.set_ylabel("")
        ax.tick_params(labelsize=10)

    (xl, yl) = LEFT_LIMS[i]
    axl.set_xlim(*xl); axl.set_ylim(*yl)
    axl.set_xticks(LEFT_TICKS[i]); axl.set_yticks(LEFT_TICKS[i])
    (xr, yr) = RIGHT_LIMS[i]
    axr.set_xlim(*xr); axr.set_ylim(*yr)
    axr.set_xticks(RIGHT_XTICKS[i]); axr.set_yticks(RIGHT_YTICKS[i])
    if i == 1:
        axr.set_yticklabels([f"{v:.1f}" for v in RIGHT_YTICKS[i]])

    fig.text(264 / W, 1 - label_y[i] / H, LABELS[i], ha="center", va="center",
             fontsize=14, family=["Liberation Serif", "DejaVu Serif"])

fig.savefig("out.png", dpi=100)
